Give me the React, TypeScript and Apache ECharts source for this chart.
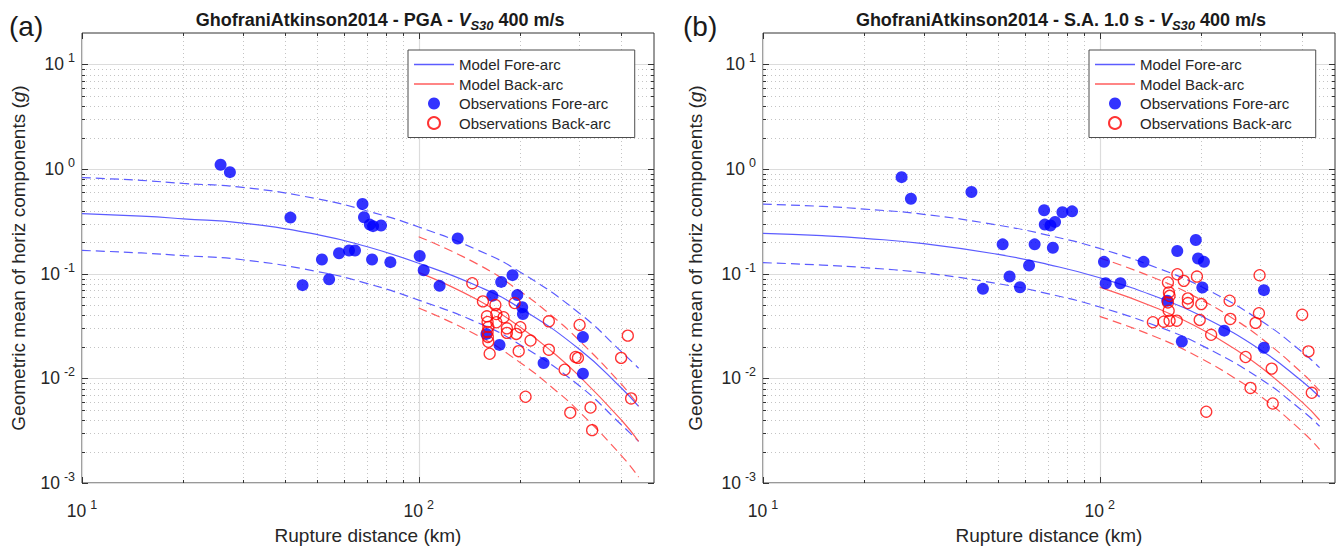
import React, { useEffect, useRef } from "react";
import * as echarts from "echarts";

const FONT = "'Liberation Sans', Arial, Helvetica, sans-serif";
const TEXT = "#262626";

// ---- axis tick values ----
const X_MAJOR = [10, 100];
const X_MINOR = [20, 30, 40, 50, 60, 70, 80, 90, 200, 300, 400];
const Y_MAJOR = [0.001, 0.01, 0.1, 1, 10];
const Y_MINOR = [
  0.002, 0.003, 0.004, 0.005, 0.006, 0.007, 0.008, 0.009,
  0.02, 0.03, 0.04, 0.05, 0.06, 0.07, 0.08, 0.09,
  0.2, 0.3, 0.4, 0.5, 0.6, 0.7, 0.8, 0.9,
  2, 3, 4, 5, 6, 7, 8, 9,
];

// ---- model curves (distance in km) ----
const R_MODEL_FORE = [10, 15, 20, 30, 50, 70, 100, 150, 200, 300, 400, 450];
const R_MODEL_BACK = [100, 150, 200, 250, 300, 400, 450];

const PGA_FORE_MED = [0.376, 0.355, 0.335, 0.305, 0.237, 0.182, 0.126, 0.076, 0.047, 0.019, 0.0081, 0.0054];
const PGA_FORE_HI = [0.83, 0.78, 0.73, 0.67, 0.52, 0.4, 0.28, 0.168, 0.104, 0.042, 0.018, 0.0125];
const PGA_FORE_LO = [0.167, 0.158, 0.149, 0.136, 0.105, 0.081, 0.056, 0.034, 0.021, 0.0085, 0.0036, 0.0025];
const PGA_BACK_MED = [0.103, 0.056, 0.031, 0.0178, 0.0105, 0.004, 0.0025];
const PGA_BACK_HI = [0.226, 0.123, 0.068, 0.039, 0.023, 0.0088, 0.0055];
const PGA_BACK_LO = [0.047, 0.0256, 0.0142, 0.0081, 0.0048, 0.00183, 0.00114];

const SA_FORE_MED = [0.243, 0.231, 0.218, 0.194, 0.153, 0.123, 0.0916, 0.059, 0.0396, 0.0188, 0.00935, 0.00664];
const SA_FORE_HI = [0.463, 0.44, 0.415, 0.37, 0.291, 0.234, 0.1745, 0.112, 0.0754, 0.0358, 0.0178, 0.01265];
const SA_FORE_LO = [0.1276, 0.121, 0.1145, 0.102, 0.0803, 0.0646, 0.0481, 0.031, 0.0208, 0.0099, 0.0049, 0.00349];
const SA_BACK_MED = [0.0745, 0.046, 0.0296, 0.0194, 0.0129, 0.00589, 0.004];
const SA_BACK_HI = [0.142, 0.0876, 0.0564, 0.037, 0.0246, 0.0112, 0.0076];
const SA_BACK_LO = [0.0391, 0.0242, 0.0155, 0.0102, 0.0068, 0.0031, 0.0021];

// ---- observations [distance km, value g] ----
const PGA_OBS_FORE = [
  [25.8, 1.1], [27.5, 0.935], [41.6, 0.344], [45.2, 0.0778], [51.6, 0.137], [54.2, 0.0887],
  [58.0, 0.157], [62.1, 0.167], [64.7, 0.167], [68.1, 0.465], [68.8, 0.347], [71.6, 0.295],
  [73.2, 0.285], [77.3, 0.289], [72.7, 0.137], [82.4, 0.129], [100.7, 0.148], [103.5, 0.108],
  [115.4, 0.0766], [130.6, 0.217], [175.8, 0.0836], [190, 0.097], [165.5, 0.0615], [196.3, 0.0625],
  [203, 0.0478], [204, 0.0412], [173.8, 0.0209], [159, 0.0266], [235, 0.014], [307.5, 0.0248],
  [307.5, 0.0111],
];
const PGA_OBS_BACK = [
  [144.3, 0.0812], [155.2, 0.0544], [169, 0.0502], [192.7, 0.0525], [159.5, 0.0392], [170.1, 0.0412],
  [160.2, 0.0346], [161, 0.031], [160.2, 0.0278], [160.5, 0.0249], [161, 0.0224], [170.1, 0.0344],
  [178.7, 0.0384], [182.8, 0.0301], [182.8, 0.0272], [195, 0.0266], [200.4, 0.0308], [198.2, 0.0182],
  [162.5, 0.0172], [214.9, 0.023], [243.6, 0.0351], [243.6, 0.0188], [271.3, 0.0121], [292.4, 0.016],
  [297.2, 0.0157], [300.6, 0.0324], [418, 0.0256], [399.3, 0.0157], [427.6, 0.00643], [207.7, 0.00667],
  [282, 0.0047], [323.9, 0.00527], [327.5, 0.0032],
];
const SA_OBS_FORE = [
  [25.8, 0.838], [27.5, 0.521], [41.6, 0.604], [68.4, 0.404], [77.5, 0.387], [82.8, 0.395],
  [68.7, 0.295], [71.4, 0.289], [73.7, 0.313], [51.5, 0.191], [64.1, 0.191], [72.6, 0.177],
  [61.7, 0.12], [54.0, 0.094], [45.0, 0.0717], [58.0, 0.0744], [104.2, 0.0812], [115.2, 0.0812],
  [201.8, 0.074], [307.5, 0.0697], [158.8, 0.0552], [234.4, 0.0286], [175.4, 0.0225], [307.5, 0.0196],
  [103, 0.13], [135, 0.13], [170, 0.165], [193, 0.21], [196, 0.14], [204, 0.13],
];
const SA_OBS_BACK = [
  [170.1, 0.0989], [194.5, 0.094], [298.5, 0.0968], [177.8, 0.0855], [159.5, 0.0825], [160.6, 0.0663],
  [161.3, 0.0615], [159.5, 0.0532], [182.8, 0.0581], [182.8, 0.0525], [200.4, 0.0513], [243.2, 0.0552],
  [297.2, 0.0419], [399.5, 0.0406], [160.3, 0.0443], [154.9, 0.0348], [161.3, 0.0356], [169.4, 0.0356],
  [143.9, 0.0344], [198.2, 0.0362], [244.3, 0.037], [290.4, 0.0339], [214.3, 0.0261], [271.3, 0.016],
  [324.3, 0.0124], [417, 0.0181], [280.5, 0.0081], [426.6, 0.00728], [326.6, 0.00575], [207.3, 0.0048],
];

const LEGEND_NAMES = ["Model Fore-arc", "Model Back-arc", "Observations Fore-arc", "Observations Back-arc"];
const TITLES = ["PGA", "S.A. 1.0 s"];
const PANEL_LABELS = ["(a)", "(b)"];

const GRIDS = [
  { left: 82, top: 33, width: 572, height: 452 },
  { left: 763, top: 33, width: 572, height: 452 },
];

const BLUE_LINE = "#5c5cff";
const RED_LINE = "#ff5c5c";
const LINE_ICON = "path://M0,0 L40,0 L40,1.3 L0,1.3 Z";

function zip(xs: number[], ys: number[]) {
  return xs.map((x, i) => [x, ys[i]]);
}

function expLabel(v: number) {
  const e = Math.round(Math.log10(v));
  if (Math.abs(v / Math.pow(10, e) - 1) > 1e-6) return "";
  return `{b|10}{s|${e}}`;
}

const labelRich = {
  b: { fontSize: 17.5, fontFamily: FONT, color: TEXT },
  s: { fontSize: 12.5, fontFamily: FONT, color: TEXT, padding: [0, 0, 12, 4] },
};

const GRID_DATA = [
  ...X_MAJOR.map((v) => [v, 1, 0]),
  ...X_MINOR.map((v) => [v, 1, 1]),
  ...Y_MAJOR.map((v) => [10, v, 2]),
  ...Y_MINOR.map((v) => [10, v, 3]),
];

function renderGrid(params: any, api: any) {
  const cs = params.coordSys;
  const kind = api.value(2);
  const x0 = cs.x, x1 = cs.x + cs.width, y0 = cs.y, y1 = cs.y + cs.height;
  const major = kind === 0 || kind === 2;
  const tl = major ? 6 : 3;
  const gl = major
    ? { stroke: "#dcdcdc", lineWidth: 1.2 }
    : { stroke: "#c4c4c4", lineWidth: 1, lineDash: [1, 3] };
  const ts = { stroke: "#333", lineWidth: 1 };
  if (kind < 2) {
    const px = Math.round(api.coord([api.value(0), 1])[0]) + 0.5;
    return {
      type: "group",
      children: [
        { type: "line", shape: { x1: px, y1: y0, x2: px, y2: y1 }, style: gl },
        { type: "line", shape: { x1: px, y1: y1, x2: px, y2: y1 - tl }, style: ts },
        { type: "line", shape: { x1: px, y1: y0, x2: px, y2: y0 + tl }, style: ts },
      ],
    };
  }
  const py = Math.round(api.coord([10, api.value(1)])[1]) + 0.5;
  return {
    type: "group",
    children: [
      { type: "line", shape: { x1: x0, y1: py, x2: x1, y2: py }, style: gl },
      { type: "line", shape: { x1: x0, y1: py, x2: x0 + tl, y2: py }, style: ts },
      { type: "line", shape: { x1: x1, y1: py, x2: x1 - tl, y2: py }, style: ts },
    ],
  };
}

function panelSeries(i: number) {
  const fore = i === 0
    ? [PGA_FORE_MED, PGA_FORE_HI, PGA_FORE_LO]
    : [SA_FORE_MED, SA_FORE_HI, SA_FORE_LO];
  const back = i === 0
    ? [PGA_BACK_MED, PGA_BACK_HI, PGA_BACK_LO]
    : [SA_BACK_MED, SA_BACK_HI, SA_BACK_LO];
  const obsF = i === 0 ? PGA_OBS_FORE : SA_OBS_FORE;
  const obsB = i === 0 ? PGA_OBS_BACK : SA_OBS_BACK;
  const ax = { xAxisIndex: i, yAxisIndex: i };
  const line = (name: string, data: number[][], color: string, dashed: boolean) => ({
    ...ax,
    type: "line",
    name,
    data,
    symbol: "none",
    smooth: true,
    z: 3,
    silent: true,
    lineStyle: { color, width: 1.2, type: dashed ? [9, 5] : "solid" },
    itemStyle: { color },
  });
  return [
    {
      ...ax,
      type: "custom",
      silent: true,
      z: 1,
      clip: false,
      encode: { x: 0, y: 1 },
      data: GRID_DATA,
      renderItem: renderGrid,
    },
    line("Model Fore-arc", zip(R_MODEL_FORE, fore[0]), BLUE_LINE, false),
    line("fore-hi", zip(R_MODEL_FORE, fore[1]), BLUE_LINE, true),
    line("fore-lo", zip(R_MODEL_FORE, fore[2]), BLUE_LINE, true),
    line("Model Back-arc", zip(R_MODEL_BACK, back[0]), RED_LINE, false),
    line("back-hi", zip(R_MODEL_BACK, back[1]), RED_LINE, true),
    line("back-lo", zip(R_MODEL_BACK, back[2]), RED_LINE, true),
    {
      ...ax,
      type: "scatter",
      name: "Observations Fore-arc",
      data: obsF,
      symbol: "circle",
      symbolSize: 12,
      z: 4,
      itemStyle: { color: "#0000ff" },
    },
    {
      ...ax,
      type: "scatter",
      name: "Observations Back-arc",
      data: obsB,
      symbol: "circle",
      symbolSize: 11,
      z: 5,
      itemStyle: { color: "rgba(255,255,255,0)", borderColor: "#ff0000", borderWidth: 1.3 },
    },
  ];
}

function buildOption() {
  const xAxis = GRIDS.map((_, i) => ({
    type: "log",
    logBase: 10,
    gridIndex: i,
    min: 10,
    max: 500,
    axisLine: { show: false },
    axisTick: { show: false },
    splitLine: { show: false },
    axisLabel: { formatter: expLabel, margin: 15, rich: labelRich },
    name: "Rupture distance (km)",
    nameLocation: "middle",
    nameGap: 43,
    nameTextStyle: { fontSize: 19, fontFamily: FONT, color: TEXT },
  }));
  const yAxis = GRIDS.map((_, i) => ({
    type: "log",
    logBase: 10,
    gridIndex: i,
    min: 0.001,
    max: 20,
    axisLine: { show: false },
    axisTick: { show: false },
    splitLine: { show: false },
    axisLabel: { formatter: expLabel, margin: 7, rich: labelRich },
    name: "{a|Geometric mean of horiz components (}{i|g}{a|)}",
    nameLocation: "middle",
    nameGap: i === 0 ? 54 : 58,
    nameTextStyle: {
      rich: {
        a: { fontSize: 19, fontFamily: FONT, color: TEXT },
        i: { fontSize: 19, fontFamily: FONT, color: TEXT, fontStyle: "italic" },
      },
    },
  }));
  const graphic: any[] = [];
  GRIDS.forEach((g, i) => {
    graphic.push({
      type: "text",
      x: g.left + g.width / 2 + 12,
      y: 20,
      style: {
        text: `{b|GhofraniAtkinson2014 - ${TITLES[i]} - }{v|V}{s|S30}{b| 400 m/s}`,
        align: "center",
        verticalAlign: "middle",
        rich: {
          b: { fontSize: 18, fontWeight: "bold", fontFamily: FONT, fill: "#1a1a1a" },
          v: { fontSize: 18, fontWeight: "bold", fontStyle: "italic", fontFamily: FONT, fill: "#1a1a1a" },
          s: { fontSize: 13, fontWeight: "bold", fontStyle: "italic", fontFamily: FONT, fill: "#1a1a1a", padding: [11, 0, 0, 0] },
        },
      },
    });
    graphic.push({
      type: "text",
      x: i === 0 ? 9 : 683,
      y: 26,
      style: {
        text: PANEL_LABELS[i],
        fontSize: 28,
        fontFamily: FONT,
        fill: "#1a1a1a",
        align: "left",
        verticalAlign: "middle",
      },
    });
  });
  const legendData = [
    { name: LEGEND_NAMES[0], icon: LINE_ICON },
    { name: LEGEND_NAMES[1], icon: LINE_ICON },
    { name: LEGEND_NAMES[2] },
    { name: LEGEND_NAMES[3] },
  ];
  return {
    animation: false,
    backgroundColor: "#ffffff",
    grid: GRIDS.map((g) => ({
      ...g,
      show: true,
      borderColor: "#333",
      borderWidth: 1,
      backgroundColor: "#ffffff",
    })),
    xAxis,
    yAxis,
    legend: GRIDS.map((g) => ({
      left: g.left + g.width - 246,
      top: 50,
      orient: "vertical",
      data: legendData,
      itemWidth: 40,
      itemHeight: 12,
      itemGap: 4.5,
      symbolKeepAspect: true,
      padding: [7, 24, 7, 6],
      borderColor: "#4d4d4d",
      borderWidth: 1,
      backgroundColor: "#ffffff",
      selectedMode: false,
      textStyle: { fontSize: 15, fontFamily: FONT, color: TEXT, lineHeight: 15 },
    })),
    graphic,
    series: [...panelSeries(0), ...panelSeries(1)],
  };
}

export default function App() {
  const ref = useRef<HTMLDivElement>(null);
  useEffect(() => {
    if (!ref.current) return;
    const chart = echarts.init(ref.current, undefined, { renderer: "svg" });
    chart.setOption(buildOption() as any);
    return () => chart.dispose();
  }, []);
  return (
    <div
      ref={ref}
      style={{ position: "absolute", left: 0, top: 0, width: 1339, height: 550, background: "#fff" }}
    />
  );
}
